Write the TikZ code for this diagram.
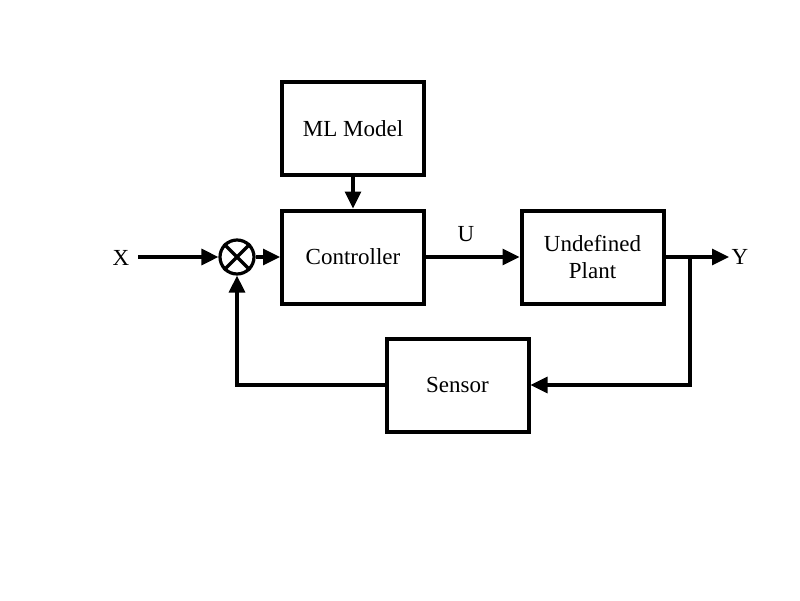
\documentclass[tikz,border=0pt]{standalone}
\usepackage{fontspec}
\setmainfont{Liberation Serif}
\usetikzlibrary{arrows.meta}
\begin{document}
\begin{tikzpicture}[x=1pt,y=-1pt,
  blk/.style={draw,line width=4pt,minimum width=142pt,minimum height=93pt,inner sep=0pt,align=center,font=\fontsize{23}{27}\selectfont},
  lbl/.style={font=\fontsize{23}{27}\selectfont,inner sep=0pt},
  conn/.style={line width=3.2pt,-{Triangle[length=17pt,width=16pt]}},
  wire/.style={line width=3.2pt}]
\useasboundingbox (0,0) rectangle (800,600);
\node[blk] (ml) at (353,128.5) {ML Model};
\node[blk] (ctrl) at (353,257) {Controller};
\node[blk] (plant) at (592.5,257) {Undefined\\Plant};
\node[blk] (sensor) at (457.5,385) {Sensor};
\node[draw,circle,line width=3.2pt,minimum size=34pt,inner sep=0pt] (sum) at (237,257) {};
\draw[line width=3.2pt] (sum.45) -- (sum.225) (sum.135) -- (sum.315);
\node[lbl] (x) at (121,258) {X};
\node[lbl] (y) at (740,257) {Y};
\node[lbl] (u) at (466,234) {U};
\coordinate (xs) at (138,257);
\coordinate (ye) at (729,257);
\coordinate (br) at (690,257);
\coordinate (brd) at (690,385);
\coordinate (fb) at (237,385);
\draw[conn] (xs) -- (sum.west);
\draw[conn] (sum.east) -- (ctrl.west);
\draw[conn] (ml.south) -- (ctrl.north);
\draw[conn] (ctrl.east) -- (plant.west);
\draw[conn] (plant.east) -- (ye);
\draw[conn] (br) -- (brd) -- (sensor.east);
\draw[conn] (sensor.west) -- (fb) -- (sum.south);
\end{tikzpicture}
\end{document}
